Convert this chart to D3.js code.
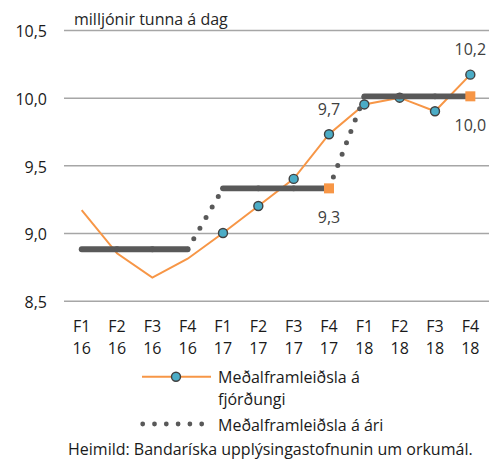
<!DOCTYPE html>
<html>
<head>
<meta charset="utf-8">
<script src="https://cdn.jsdelivr.net/npm/d3@7"></script>
<style>
  body { margin: 0; background: #fff; }
  svg text { font-family: "Open Sans", sans-serif; }
</style>
</head>
<body>
<svg></svg>
<script>
var quarters = ["F1","F2","F3","F4","F1","F2","F3","F4","F1","F2","F3","F4"];
var years = ["16","16","16","16","17","17","17","17","18","18","18","18"];
var quarterly = [9.17,8.85,8.67,8.81,9.00,9.20,9.40,9.73,9.95,10.00,9.90,10.17];
var annual = [8.88,8.88,8.88,8.88,9.33,9.33,9.33,9.33,10.01,10.01,10.01,10.01];
var yTicks = [8.5,9.0,9.5,10.0,10.5];
var quarterlyLabels = [{i:7,text:"9,7"},{i:11,text:"10,2"}];
var annualLabels = [{i:7,text:"9,3"},{i:11,text:"10,0"}];

var svgWidth = 492, svgHeight = 462;
var orange = "#F79646", teal = "#4BACC6", darkGray = "#595959";

var svg = d3.select('svg')
            .attr('width',svgWidth)
            .attr('height',svgHeight);

var x = d3.scaleBand().domain(d3.range(quarters.length)).range([64,488]);
var y = d3.scaleLinear().domain([8.5,10.5]).range([300.7,30]);
var cx = function(i){ return x(i) + x.bandwidth()/2; };
var comma = function(v){ return d3.format(".1f")(v).replace(".",","); };

// gridlines + y labels
var yAxis = svg.append('g')
               .attr('transform','translate(64,0)')
               .call(d3.axisLeft(y).tickValues(yTicks).tickSize(-425).tickPadding(17).tickFormat(comma));
yAxis.select('.domain').remove();
yAxis.selectAll('line').attr('stroke','#a6a6a6').attr('stroke-width',1.5);
yAxis.selectAll('text')
     .attr('dy','0.42em')
     .attr('font-size',16)
     .attr('fill','#1a1a1a');

svg.append('text')
   .attr('x',74).attr('y',25)
   .attr('font-size',16)
   .attr('fill','#262626')
   .text('milljónir tunna á dag');

// x labels (two lines)
var xl = svg.selectAll('.xlab')
            .data(quarters)
            .enter()
            .append('g')
            .attr('class','xlab');
xl.append('text')
  .attr('x',function(d,i){ return cx(i); })
  .attr('y',331.5)
  .attr('text-anchor','middle')
  .attr('font-size',16)
  .attr('fill','#1a1a1a')
  .text(function(d){ return d; });
xl.append('text')
  .attr('x',function(d,i){ return cx(i); })
  .attr('y',354)
  .attr('text-anchor','middle')
  .attr('font-size',16)
  .attr('fill','#1a1a1a')
  .text(function(d,i){ return years[i]; });

// quarterly line
var line = d3.line()
             .x(function(d,i){ return cx(i); })
             .y(function(d){ return y(d); });
svg.append('path')
   .datum(quarterly)
   .attr('d',line)
   .attr('fill','none')
   .attr('stroke',orange)
   .attr('stroke-width',2);

svg.selectAll('.qdot')
   .data(quarterly)
   .enter()
   .filter(function(d,i){ return i >= 4; })
   .append('circle')
   .attr('class','qdot')
   .attr('cx',function(d,i){ return cx(i + 4); })
   .attr('cy',function(d){ return y(d); })
   .attr('r',4.5)
   .attr('fill',teal)
   .attr('stroke','#404040')
   .attr('stroke-width',1.4);

// annual series: solid within a year, dotted between years
var segs = [];
for (var i = 0; i < annual.length - 1; i++) {
  segs.push({a:i, b:i+1, dotted: years[i] != years[i+1]});
}
svg.selectAll('.aseg')
   .data(segs)
   .enter()
   .append('line')
   .attr('class','aseg')
   .attr('x1',function(d){ return cx(d.a); })
   .attr('y1',function(d){ return y(annual[d.a]); })
   .attr('x2',function(d){ return cx(d.b); })
   .attr('y2',function(d){ return y(annual[d.b]); })
   .attr('stroke',darkGray)
   .attr('stroke-linecap','round')
   .attr('stroke-width',function(d){ return d.dotted ? 5 : 5.8; })
   .attr('stroke-dasharray',function(d){ return d.dotted ? '0 12.2' : null; });

svg.selectAll('.asq')
   .data(annualLabels)
   .enter()
   .append('rect')
   .attr('class','asq')
   .attr('x',function(d){ return cx(d.i) - 5; })
   .attr('y',function(d){ return y(annual[d.i]) - 5; })
   .attr('width',10)
   .attr('height',10)
   .attr('fill',orange);

// data labels
svg.selectAll('.qlab')
   .data(quarterlyLabels)
   .enter()
   .append('text')
   .attr('x',function(d){ return cx(d.i); })
   .attr('y',function(d){ return y(quarterly[d.i]) - 19.5; })
   .attr('text-anchor','middle')
   .attr('font-size',16)
   .attr('fill','#404040')
   .text(function(d){ return d.text; });
svg.selectAll('.alab')
   .data(annualLabels)
   .enter()
   .append('text')
   .attr('x',function(d){ return cx(d.i); })
   .attr('y',function(d){ return y(annual[d.i]) + 34.5; })
   .attr('text-anchor','middle')
   .attr('font-size',16)
   .attr('fill','#404040')
   .text(function(d){ return d.text; });

// legend
var lg = svg.append('g');
lg.append('line').attr('x1',142).attr('x2',211).attr('y1',376.7).attr('y2',376.7)
  .attr('stroke',orange).attr('stroke-width',2);
lg.append('circle').attr('cx',176).attr('cy',376.7).attr('r',4.5)
  .attr('fill',teal).attr('stroke','#404040').attr('stroke-width',1.4);
lg.append('text').attr('x',218).attr('y',383).attr('font-size',16).attr('fill','#1a1a1a')
  .text('Meðalframleiðsla á');
lg.append('text').attr('x',218).attr('y',405).attr('font-size',16).attr('fill','#1a1a1a')
  .text('fjórðungi');
lg.append('line').attr('x1',142.7).attr('x2',202).attr('y1',424).attr('y2',424)
  .attr('stroke',darkGray).attr('stroke-width',4.8)
  .attr('stroke-linecap','round').attr('stroke-dasharray','0 11.8');
lg.append('text').attr('x',218).attr('y',430.5).attr('font-size',16).attr('fill','#1a1a1a')
  .text('Meðalframleiðsla á ári');

svg.append('text')
   .attr('x',68).attr('y',455)
   .attr('font-size',16)
   .attr('fill','#1a1a1a')
   .text('Heimild: Bandaríska upplýsingastofnunin um orkumál.');
</script>
</body>
</html>
